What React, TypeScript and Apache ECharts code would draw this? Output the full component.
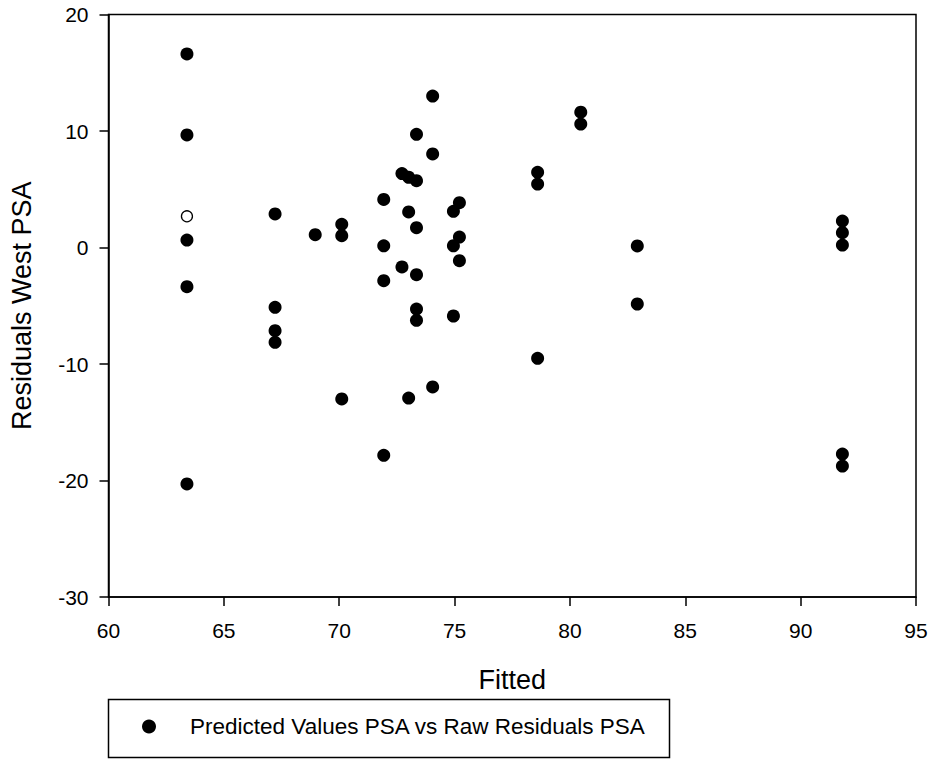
import React, { useEffect, useRef } from "react";
import * as echarts from "echarts";

const fittedValues: number[] = [
  63.4, 63.4, 63.4, 63.4, 63.4, 63.4,
  67.22, 67.22, 67.22, 67.22,
  68.96,
  70.11, 70.11, 70.11,
  71.93, 71.93, 71.93, 71.93,
  72.72, 72.72,
  73.01, 73.01, 73.01,
  73.35, 73.35, 73.35, 73.35, 73.35, 73.35,
  74.05, 74.05, 74.05,
  74.95, 74.95, 74.95,
  75.21, 75.21, 75.21,
  78.6, 78.6, 78.6,
  80.47, 80.47,
  82.92, 82.92,
  91.81, 91.81, 91.81, 91.81, 91.81,
];

const residualValues: number[] = [
  16.61, 9.66, 2.68, 0.64, -3.36, -20.3,
  2.88, -5.13, -7.14, -8.14,
  1.1,
  1.99, 1.01, -13.0,
  4.13, 0.14, -2.85, -17.84,
  6.35, -1.67,
  6.03, 3.05, -12.92,
  9.72, 5.73, 1.7, -2.33, -5.28, -6.25,
  13.0, 8.03, -11.97,
  3.11, 0.15, -5.88,
  3.85, 0.9, -1.13,
  6.45, 5.45, -9.51,
  11.62, 10.6,
  0.13, -4.85,
  2.27, 1.27, 0.21, -17.73, -18.76,
];

// index of the point drawn as an open circle
const openPointIndices: number[] = [2];

const xTicks = { min: 60, max: 95, interval: 5 };
const yTicks = { min: -30, max: 20, interval: 10 };

const seriesName = "Predicted Values PSA vs Raw Residuals PSA";
const xTitle = "Fitted";
const yTitle = "Residuals West PSA";

const FONT = "'Liberation Sans', Arial, sans-serif";

export default function App() {
  const ref = useRef<HTMLDivElement>(null);

  useEffect(() => {
    if (!ref.current) return;
    const chart = echarts.init(ref.current, null, { renderer: "svg" });

    const data = fittedValues.map((x, i) => {
      if (openPointIndices.includes(i)) {
        return {
          value: [x, residualValues[i]],
          symbolSize: 11,
          itemStyle: { color: "#ffffff", borderColor: "#000000", borderWidth: 1.3 },
        };
      }
      return { value: [x, residualValues[i]] };
    });

    chart.setOption({
      animation: false,
      backgroundColor: "#ffffff",
      textStyle: { fontFamily: FONT, color: "#000" },
      grid: {
        left: 108.5,
        right: 16,
        top: 14.5,
        bottom: 162,
        show: true,
        borderColor: "#000",
        borderWidth: 1.5,
        backgroundColor: "transparent",
      },
      xAxis: {
        type: "value",
        min: xTicks.min,
        max: xTicks.max,
        interval: xTicks.interval,
        name: xTitle,
        nameLocation: "middle",
        nameGap: 69,
        nameTextStyle: { fontSize: 27, color: "#000", fontFamily: FONT },
        axisLine: { show: true, onZero: false, lineStyle: { color: "#000", width: 1.5 } },
        axisTick: { show: true, inside: false, length: 9, lineStyle: { color: "#000", width: 1.5 } },
        axisLabel: { fontSize: 21, color: "#000", margin: 23, fontFamily: FONT },
        splitLine: { show: false },
      },
      yAxis: {
        type: "value",
        min: yTicks.min,
        max: yTicks.max,
        interval: yTicks.interval,
        name: yTitle,
        nameLocation: "middle",
        nameGap: 73,
        nameRotate: 90,
        nameTextStyle: { fontSize: 27, color: "#000", fontFamily: FONT },
        axisLine: { show: true, onZero: false, lineStyle: { color: "#000", width: 1.5 } },
        axisTick: { show: true, inside: false, length: 9, lineStyle: { color: "#000", width: 1.5 } },
        axisLabel: { fontSize: 21, color: "#000", margin: 20, fontFamily: FONT },
        splitLine: { show: false },
      },
      legend: {
        show: true,
        data: [seriesName],
        left: 142,
        top: 715,
        orient: "horizontal",
        icon: "circle",
        itemWidth: 14,
        itemHeight: 14,
        padding: 0,
        textStyle: {
          fontSize: 22.5,
          color: "#000",
          fontFamily: FONT,
          padding: [0, 0, 0, 29],
        },
      },
      graphic: [
        {
          type: "rect",
          shape: { x: 108.5, y: 699.5, width: 561, height: 58 },
          style: { fill: "none", stroke: "#000", lineWidth: 1.5 },
          silent: true,
          z: 100,
        },
      ],
      series: [
        {
          name: seriesName,
          type: "scatter",
          symbol: "circle",
          symbolSize: 13,
          itemStyle: { color: "#000000", opacity: 1 },
          data,
        },
      ],
    });

    return () => {
      chart.dispose();
    };
  }, []);

  return (
    <div
      ref={ref}
      style={{ position: "fixed", left: 0, top: 0, width: 932, height: 759, background: "#fff" }}
    />
  );
}
